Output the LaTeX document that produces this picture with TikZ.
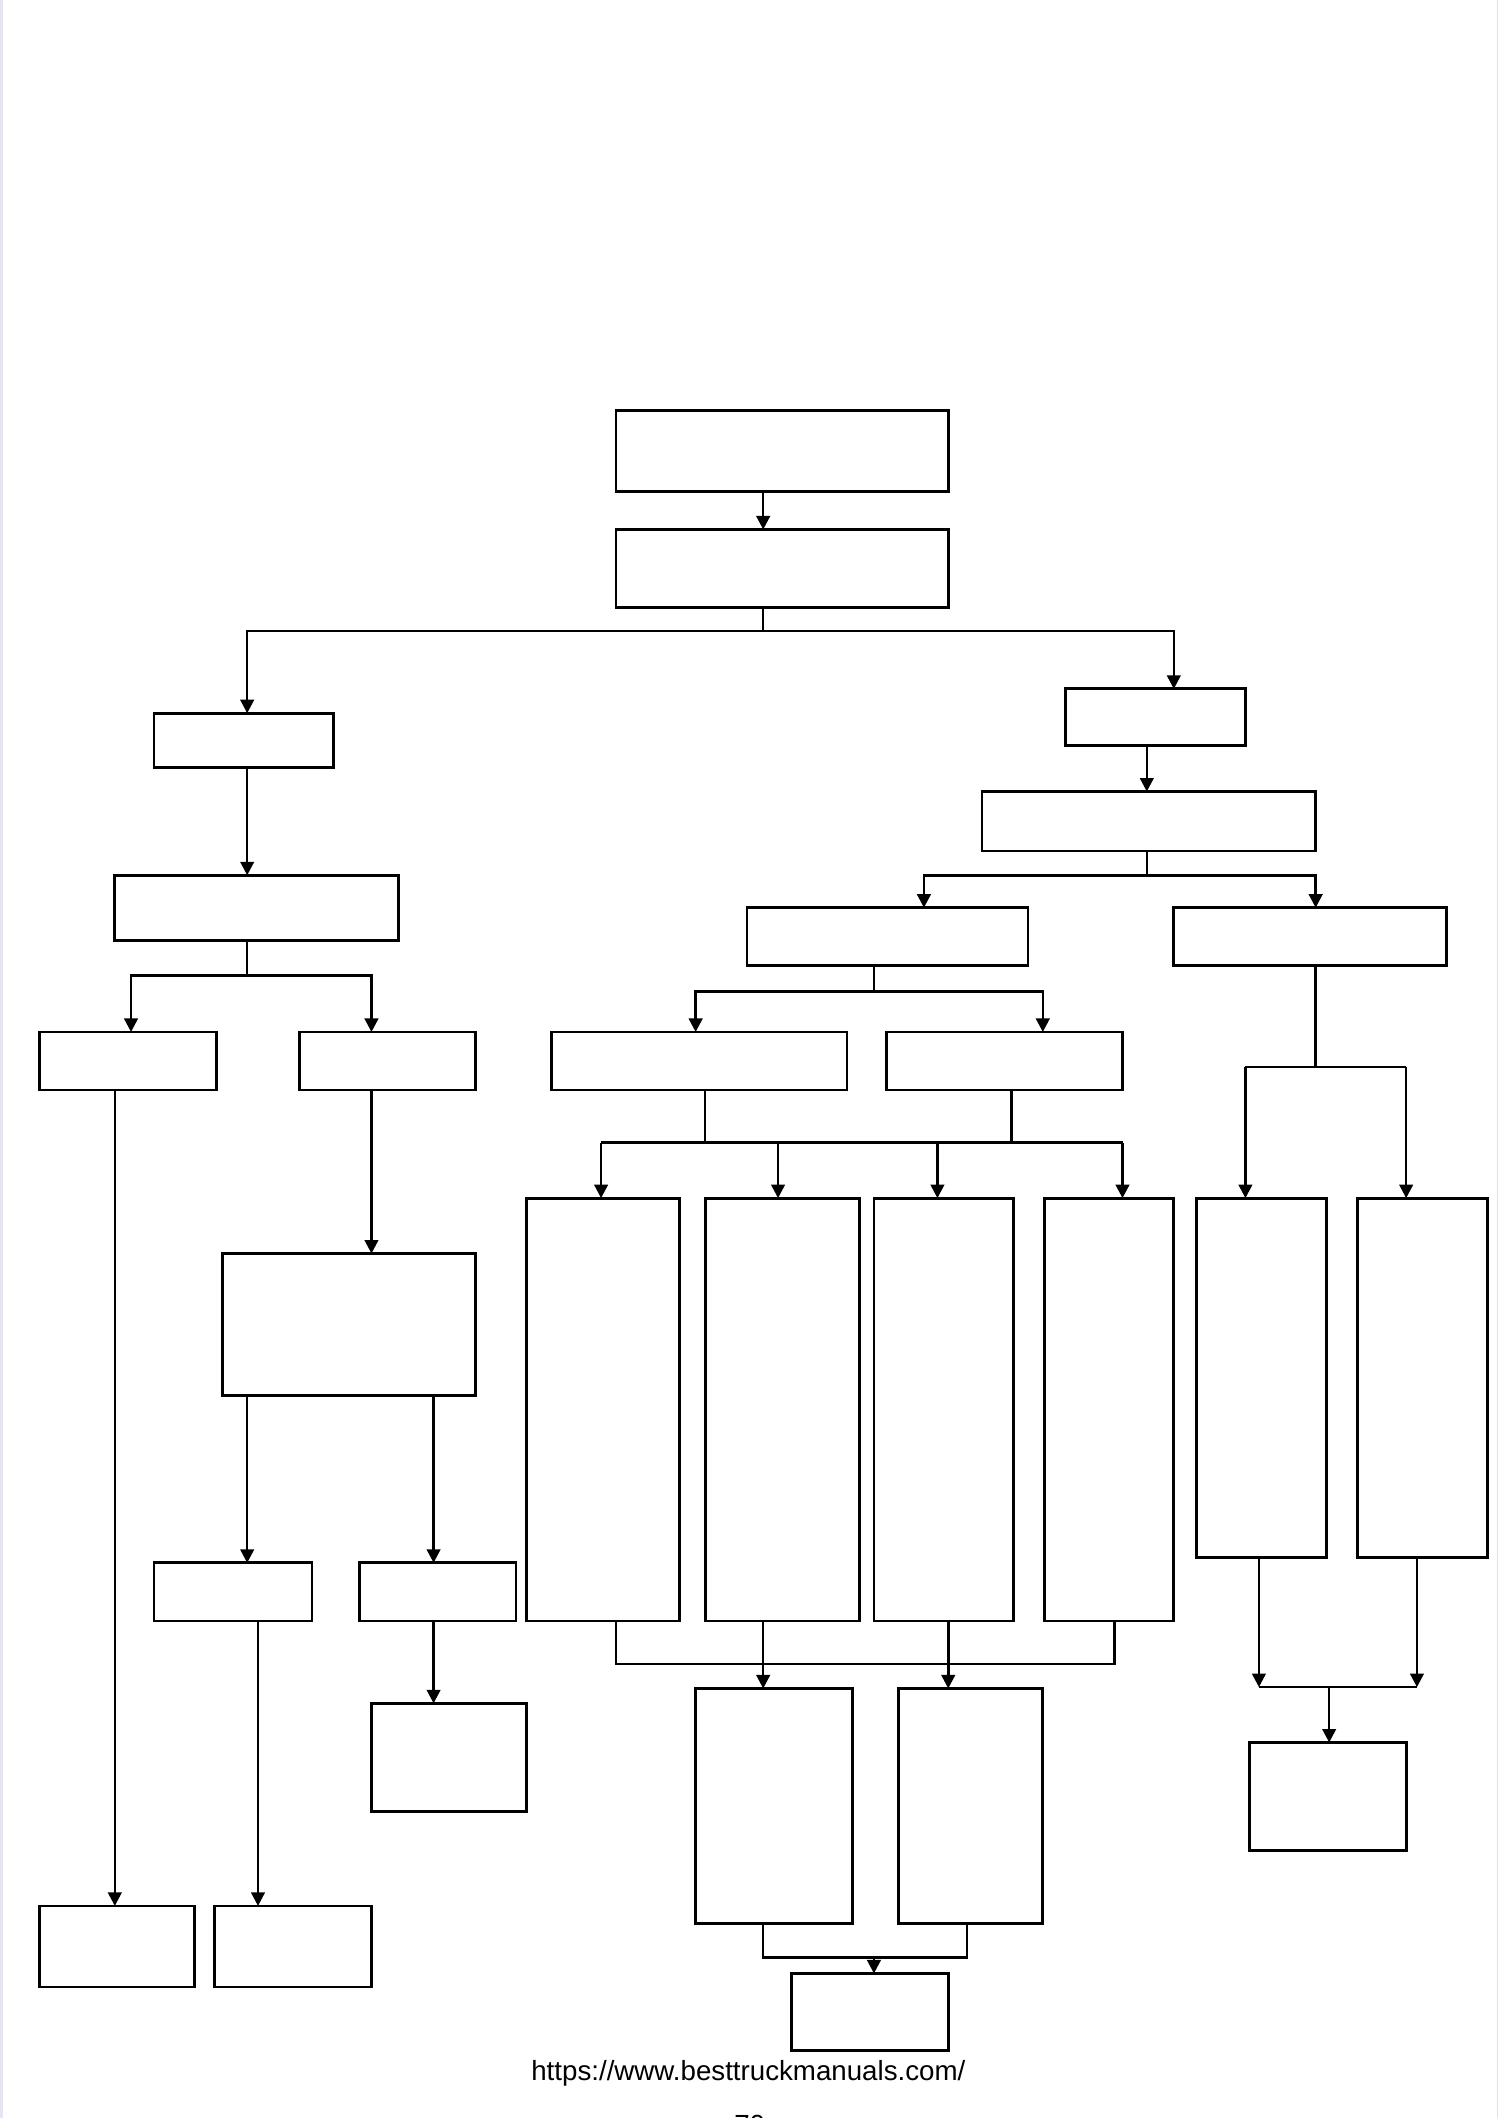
\documentclass[tikz,border=0pt]{standalone}
\usepackage{fontspec}
\setmainfont{Liberation Sans}
\usetikzlibrary{arrows.meta}
\definecolor{edgeL}{RGB}{228,228,245}
\definecolor{edgeR}{RGB}{225,225,235}
\newcommand\bx[5]{\node[box, minimum width={#4-#2}, minimum height={#5-#3}] (#1) at ({(#2+#4)/2},{(#3+#5)/2}) {};}
\begin{document}
\begin{tikzpicture}[x=1pt,y=-1pt,
  box/.style={draw=black, line width=2.1pt, fill=white, inner sep=0pt, outer sep=0pt, rectangle},
  link/.style={line width=1.9pt, draw=black},
  arr/.style={link, -{Triangle[length=10pt,width=10pt]}},
  txt/.style={font=\fontsize{20.5}{24}\selectfont, anchor=base, inner sep=0pt}]
\useasboundingbox (0,0) rectangle (1110,1568);
\begin{scope}
\clip (0,0) rectangle (1110,1568);
\fill[white] (0,0) rectangle (1110,1568);
\fill[edgeL] (0,0) rectangle (2,1568);
\draw[edgeR, line width=0.8pt] (1108.5,0) -- (1108.5,1568);
\node[txt] (pg) at (555,1580) {70};
\end{scope}
% boxes
\bx{A}{456}{304}{702}{364}
\bx{B}{456}{392}{702}{450}
\bx{C}{114}{528}{247}{568}
\bx{D}{789}{510}{922}{552}
\bx{E}{85}{648}{295}{696}
\bx{F1}{29}{764}{160}{807}
\bx{F2}{222}{764}{352}{807}
\bx{G1}{29}{1411}{144}{1471}
\bx{H}{165}{928}{352}{1033}
\bx{I1}{114}{1157}{231}{1200}
\bx{I2}{266}{1157}{382}{1200}
\bx{G2}{159}{1411}{275}{1471}
\bx{J}{275}{1261}{390}{1341}
\bx{K}{727}{586}{974}{630}
\bx{L}{553}{672}{761}{715}
\bx{M}{869}{672}{1071}{715}
\bx{N1}{408}{764}{627}{807}
\bx{N2}{656}{764}{831}{807}
\bx{P1}{390}{887}{503}{1200}
\bx{P2}{522}{887}{636}{1200}
\bx{P3}{647}{887}{750}{1200}
\bx{P4}{773}{887}{869}{1200}
\bx{Q1}{515}{1250}{631}{1424}
\bx{Q2}{665}{1250}{772}{1424}
\bx{R}{586}{1461}{702}{1518}
\bx{S1}{886}{887}{982}{1153}
\bx{S2}{1005}{887}{1101}{1153}
\bx{T}{925}{1290}{1041}{1370}
% junction coordinates
\coordinate (x565) at (565,0);
\coordinate (jB) at (565,467);
\coordinate (x183) at (183,0);
\coordinate (x869) at (869,0);
\coordinate (jE) at (183,722);
\coordinate (x97) at (97,0);
\coordinate (x275) at (275,0);
\coordinate (x85) at (85,0);
\coordinate (x321) at (321,0);
\coordinate (x191) at (191,0);
\coordinate (x849) at (849,0);
\coordinate (jK) at (849,648);
\coordinate (x684) at (684,0);
\coordinate (x974) at (974,0);
\coordinate (jL) at (647,734);
\coordinate (x515) at (515,0);
\coordinate (x772) at (772,0);
\coordinate (jN1) at (522,846);
\coordinate (jN2) at (749,846);
\coordinate (hNl) at (445,846);
\coordinate (hNr) at (831,846);
\coordinate (x576) at (576,0);
\coordinate (x694) at (694,0);
\coordinate (jP1) at (456,1232);
\coordinate (jP4) at (825,1232);
\coordinate (x702) at (702,0);
\coordinate (jQ1) at (565,1449);
\coordinate (jQ2) at (716,1449);
\coordinate (jQm) at (647,1449);
\coordinate (jM) at (974,790);
\coordinate (hMl) at (922,790);
\coordinate (hMr) at (1041,790);
\coordinate (jS1) at (932,1249);
\coordinate (jS2) at (1049,1249);
\coordinate (jSm) at (984,1249);
% connectors
\draw[arr] (A.south -| x565) -- (B.north -| x565);
\draw[link] (B.south -| x565) -- (jB);
\draw[arr] (jB) -| (C.north -| x183);
\draw[arr] (jB) -| (D.north -| x869);
\draw[arr] (C.south -| x183) -- (E.north -| x183);
\draw[link] (E.south -| x183) -- (jE);
\draw[arr] (jE) -| (F1.north -| x97);
\draw[arr] (jE) -| (F2.north -| x275);
\draw[arr] (F1.south -| x85) -- (G1.north -| x85);
\draw[arr] (F2.south -| x275) -- (H.north -| x275);
\draw[arr] (H.south -| x183) -- (I1.north -| x183);
\draw[arr] (H.south -| x321) -- (I2.north -| x321);
\draw[arr] (I1.south -| x191) -- (G2.north -| x191);
\draw[arr] (I2.south -| x321) -- (J.north -| x321);
\draw[arr] (D.south -| x849) -- (K.north -| x849);
\draw[link] (K.south -| x849) -- (jK);
\draw[arr] (jK) -| (L.north -| x684);
\draw[arr] (jK) -| (M.north -| x974);
\draw[link] (L.south -| jL) -- (jL);
\draw[arr] (jL) -| (N1.north -| x515);
\draw[arr] (jL) -| (N2.north -| x772);
\draw[link] (N1.south -| jN1) -- (jN1);
\draw[link] (N2.south -| jN2) -- (jN2);
\draw[link] (hNl) -- (hNr);
\draw[arr] (hNl) -- (P1.north -| hNl);
\draw[arr] (hNl -| x576) -- (P2.north -| x576);
\draw[arr] (hNl -| x694) -- (P3.north -| x694);
\draw[arr] (hNr) -- (P4.north -| hNr);
\draw[link] (P1.south -| jP1) -- (jP1) -- (jP4) -- (P4.south -| jP4);
\draw[arr] (P2.south -| x565) -- (Q1.north -| x565);
\draw[arr] (P3.south -| x702) -- (Q2.north -| x702);
\draw[link] (Q1.south -| jQ1) -- (jQ1) -- (jQ2) -- (Q2.south -| jQ2);
\draw[arr] (jQm) -- (R.north -| jQm);
\draw[link] (M.south -| jM) -- (jM);
\draw[link] (hMl) -- (hMr);
\draw[arr] (hMl) -- (S1.north -| hMl);
\draw[arr] (hMr) -- (S2.north -| hMr);
\draw[arr] (S1.south -| jS1) -- (jS1);
\draw[arr] (S2.south -| jS2) -- (jS2);
\draw[link] (jS1) -- (jS2);
\draw[arr] (jSm) -- (T.north -| jSm);
% footer
\node[txt] (url) at (554,1540) {https://www.besttruckmanuals.com/};
\end{tikzpicture}
\end{document}
